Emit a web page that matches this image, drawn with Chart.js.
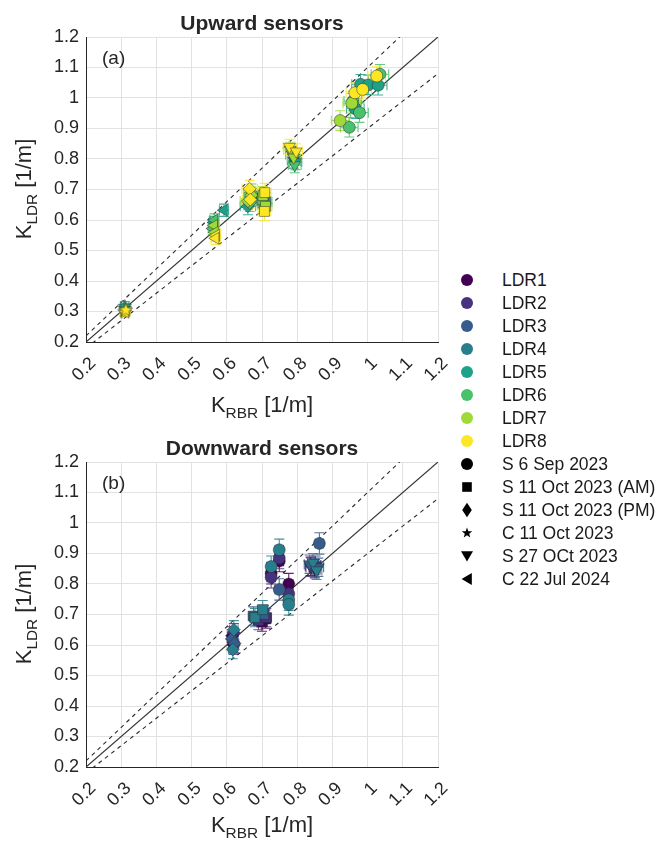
<!DOCTYPE html>
<html>
<head>
<meta charset="utf-8">
<script src="https://cdn.jsdelivr.net/npm/chart.js@4.4.1/dist/chart.umd.min.js"></script>
<style>
  body { margin: 0; background: #fff; font-family: 'Liberation Sans', Arial, sans-serif; color: #262626; }
  #page { position: relative; width: 663px; height: 845px; overflow: hidden; }
  canvas.plot { position: absolute; left: 0; }
  .lbl { position: absolute; white-space: nowrap; line-height: 1; }
  .lbl sub { font-size: 70%; line-height: 0; vertical-align: -0.38em; }
  .title { font-weight: bold; font-size: 21px; transform: translateX(-50%); }
  .axis { font-size: 22px; }
  .xlab { transform: translateX(-50%); }
  .ylab { transform: translate(-50%, -50%) rotate(-90deg); }
  .panel { font-size: 19px; }
  .leg { font-size: 17.5px; color: #1a1a1a; left: 502px; }
  #legendMarks { position: absolute; left: 440px; top: 260px; }
</style>
</head>
<body>
<div id="page">
  <canvas id="upChart" class="plot" width="450" height="420" style="top:0"></canvas>
  <canvas id="downChart" class="plot" width="450" height="425" style="top:420px"></canvas>
  <canvas id="legendMarks" width="60" height="340"></canvas>

  <div class="lbl title" style="left:262px; top:12px">Upward sensors</div>
  <div class="lbl title" style="left:262px; top:437px">Downward sensors</div>
  <div class="lbl panel" style="left:102px; top:48px">(a)</div>
  <div class="lbl panel" style="left:102px; top:473px">(b)</div>
  <div class="lbl axis xlab" style="left:262px; top:394px">K<sub>RBR</sub> [1/m]</div>
  <div class="lbl axis xlab" style="left:262px; top:814px">K<sub>RBR</sub> [1/m]</div>
  <div class="lbl axis ylab" style="left:24px; top:189px">K<sub>LDR</sub> [1/m]</div>
  <div class="lbl axis ylab" style="left:24px; top:614px">K<sub>LDR</sub> [1/m]</div>
  <div id="legendText"></div>
</div>

<script>
// capteurs, campagnes et graduations
const sensorNames = ['LDR1', 'LDR2', 'LDR3', 'LDR4', 'LDR5', 'LDR6', 'LDR7', 'LDR8'];
const campaignNames = ['S 6 Sep 2023', 'S 11 Oct 2023 (AM)', 'S 11 Oct 2023 (PM)',
                       'C 11 Oct 2023', 'S 27 OCt 2023', 'C 22 Jul 2024'];
const tickValues = [0.2, 0.3, 0.4, 0.5, 0.6, 0.7, 0.8, 0.9, 1.0, 1.1, 1.2];

// lignes de référence 1:1 et ±10 %
const oneToOne = [[0.2, 0.2], [1.2, 1.2]];
const plusTen = [[0.2, 0.22], [1.2, 1.32]];
const minusTen = [[0.2, 0.18], [1.2, 1.08]];

// capteurs montants (a)
const upSensor   = [4, 5, 6, 7, 8, 8,
                    5, 5, 6, 6, 7, 7, 8, 8,
                    5, 5, 6, 6, 7, 7, 8, 8,
                    5, 5, 6, 6, 7, 7, 8, 8,
                    4, 5, 6, 6, 7, 7, 8, 8,
                    5, 5, 5, 5, 6, 6, 6, 6, 7, 7, 8, 8, 8];
const upCampaign = [3, 3, 3, 3, 3, 3,
                    5, 5, 5, 5, 5, 5, 5, 5,
                    2, 2, 2, 2, 2, 2, 2, 2,
                    1, 1, 1, 1, 1, 1, 1, 1,
                    4, 4, 4, 4, 4, 4, 4, 4,
                    0, 0, 0, 0, 0, 0, 0, 0, 0, 0, 0, 0, 0];
const upRBR = [0.310, 0.310, 0.312, 0.309, 0.311, 0.313,
               0.592, 0.563, 0.565, 0.560, 0.564, 0.566, 0.570, 0.568,
               0.660, 0.672, 0.665, 0.670, 0.660, 0.670, 0.665, 0.667,
               0.700, 0.710, 0.705, 0.700, 0.710, 0.703, 0.707, 0.708,
               0.790, 0.795, 0.785, 0.793, 0.780, 0.790, 0.778, 0.797,
               0.965, 0.980, 1.002, 1.030, 0.948, 0.977, 0.958, 1.035, 0.922, 0.955, 0.964, 0.986, 1.026];
const upLDR = [0.312, 0.318, 0.306, 0.301, 0.298, 0.306,
               0.632, 0.592, 0.600, 0.572, 0.582, 0.560, 0.550, 0.540,
               0.645, 0.676, 0.656, 0.690, 0.662, 0.681, 0.702, 0.667,
               0.670, 0.660, 0.655, 0.666, 0.645, 0.680, 0.628, 0.690,
               0.795, 0.790, 0.815, 0.780, 0.830, 0.805, 0.840, 0.825,
               0.965, 1.045, 1.043, 1.042, 0.904, 0.952, 0.990, 1.078, 0.926, 0.983, 1.017, 1.028, 1.072];
const upErrRBR = [0.012, 0.012, 0.012, 0.012, 0.012, 0.012,
                  0.013, 0.013, 0.013, 0.013, 0.013, 0.013, 0.013, 0.013,
                  0.022, 0.022, 0.022, 0.022, 0.022, 0.022, 0.022, 0.022,
                  0.018, 0.018, 0.018, 0.018, 0.018, 0.018, 0.018, 0.018,
                  0.018, 0.018, 0.018, 0.018, 0.018, 0.018, 0.018, 0.018,
                  0.025, 0.025, 0.025, 0.025, 0.025, 0.025, 0.025, 0.025, 0.025, 0.025, 0.025, 0.025, 0.025];
const upErrLDR = [0.015, 0.015, 0.014, 0.014, 0.014, 0.014,
                  0.020, 0.020, 0.020, 0.020, 0.020, 0.020, 0.020, 0.020,
                  0.028, 0.028, 0.028, 0.028, 0.028, 0.028, 0.028, 0.028,
                  0.030, 0.030, 0.030, 0.030, 0.030, 0.030, 0.030, 0.030,
                  0.025, 0.025, 0.025, 0.025, 0.025, 0.025, 0.025, 0.025,
                  0.032, 0.032, 0.032, 0.032, 0.032, 0.032, 0.032, 0.032, 0.032, 0.032, 0.032, 0.032, 0.032];

// capteurs descendants (b)
const downSensor   = [1, 1, 2, 2, 3, 3, 4, 4,
                      1, 1, 2, 2, 3, 3, 4, 4,
                      1, 1, 1, 2, 2, 2, 3, 3, 4, 4, 4, 4,
                      1, 1, 2, 2, 3, 3, 4, 4];
const downCampaign = [2, 2, 2, 2, 2, 2, 2, 2,
                      1, 1, 1, 1, 1, 1, 1, 1,
                      0, 0, 0, 0, 0, 0, 0, 0, 0, 0, 0, 0,
                      4, 4, 4, 4, 4, 4, 4, 4];
const downRBR = [0.620, 0.615, 0.620, 0.618, 0.614, 0.622, 0.620, 0.617,
                 0.700, 0.710, 0.690, 0.712, 0.676, 0.705, 0.680, 0.702,
                 0.726, 0.776, 0.749, 0.726, 0.776, 0.749, 0.749, 0.863, 0.726, 0.749, 0.776, 0.776,
                 0.850, 0.838, 0.840, 0.852, 0.835, 0.860, 0.845, 0.855];
const downLDR = [0.600, 0.630, 0.640, 0.610, 0.620, 0.605, 0.650, 0.585,
                 0.675, 0.685, 0.680, 0.690, 0.695, 0.700, 0.690, 0.716,
                 0.835, 0.800, 0.875, 0.822, 0.768, 0.885, 0.782, 0.933, 0.857, 0.912, 0.748, 0.733,
                 0.850, 0.858, 0.855, 0.862, 0.865, 0.855, 0.870, 0.845];
const downErrRBR = [0.012, 0.012, 0.012, 0.012, 0.012, 0.012, 0.012, 0.012,
                    0.015, 0.015, 0.015, 0.015, 0.015, 0.015, 0.015, 0.015,
                    0.012, 0.012, 0.012, 0.012, 0.012, 0.012, 0.012, 0.012, 0.012, 0.012, 0.012, 0.012,
                    0.015, 0.015, 0.015, 0.015, 0.015, 0.015, 0.015, 0.015];
const downErrLDR = [0.030, 0.030, 0.030, 0.030, 0.030, 0.030, 0.030, 0.030,
                    0.030, 0.030, 0.030, 0.030, 0.030, 0.030, 0.030, 0.030,
                    0.035, 0.035, 0.035, 0.035, 0.035, 0.035, 0.035, 0.035, 0.035, 0.035, 0.035, 0.035,
                    0.030, 0.030, 0.030, 0.030, 0.030, 0.030, 0.030, 0.030];

// styles
const sensorColors = ['#440154', '#46327e', '#365c8d', '#277f8e', '#1fa187', '#4ac16d', '#a0da39', '#fde725'];
const FONT = "'Liberation Sans', Arial, sans-serif";
const TEXT = '#262626';
const markerKinds = ['circle', 'square', 'diamond', 'star', 'down', 'left'];

function drawMarker(ctx, kind, x, y, r) {
    ctx.beginPath();
    if (kind === 'circle') {
        ctx.arc(x, y, r, 0, Math.PI * 2);
    } else if (kind === 'square') {
        ctx.rect(x - r * 0.8, y - r * 0.8, r * 1.6, r * 1.6);
    } else if (kind === 'diamond') {
        ctx.moveTo(x, y - r * 1.2);
        ctx.lineTo(x + r * 0.8, y);
        ctx.lineTo(x, y + r * 1.2);
        ctx.lineTo(x - r * 0.8, y);
        ctx.closePath();
    } else if (kind === 'star') {
        for (let k = 0; k < 10; k++) {
            const a = -Math.PI / 2 + k * Math.PI / 5;
            const rr = k % 2 ? r * 0.42 : r;
            ctx.lineTo(x + rr * Math.cos(a), y + rr * Math.sin(a));
        }
        ctx.closePath();
    } else if (kind === 'down') {
        ctx.moveTo(x - r, y - r * 0.8);
        ctx.lineTo(x + r, y - r * 0.8);
        ctx.lineTo(x, y + r * 0.9);
        ctx.closePath();
    } else if (kind === 'left') {
        ctx.moveTo(x + r * 0.8, y - r);
        ctx.lineTo(x + r * 0.8, y + r);
        ctx.lineTo(x - r * 0.9, y);
        ctx.closePath();
    }
}

// étoiles pleines (pointStyle image) par couleur
const starImages = {};
function starImage(color) {
    if (!starImages[color]) {
        const c = document.createElement('canvas');
        c.width = 16; c.height = 16;
        const g = c.getContext('2d');
        drawMarker(g, 'star', 8, 8.5, 7);
        g.fillStyle = color;
        g.fill();
        g.lineWidth = 0.8;
        g.strokeStyle = 'rgba(40,40,40,0.6)';
        g.stroke();
        starImages[color] = c;
    }
    return starImages[color];
}

function pointLook(campaign, color) {
    switch (campaign) {
        case 0: return { style: 'circle', rot: 0, r: 6 };
        case 1: return { style: 'rect', rot: 0, r: 7 };
        case 2: return { style: 'rectRot', rot: 0, r: 6.5 };
        case 3: return { style: starImage(color), rot: 0, r: 6 };
        case 4: return { style: 'triangle', rot: 180, r: 6.8 };
        default: return { style: 'triangle', rot: 270, r: 6.8 };
    }
}

function formatTick(v) {
    return String(Number(v.toFixed(1)));
}

function hexAlpha(hex, a) {
    const n = parseInt(hex.slice(1), 16);
    return 'rgba(' + (n >> 16) + ',' + ((n >> 8) & 255) + ',' + (n & 255) + ',' + a + ')';
}

// barres d'erreur dessinées avant les marqueurs
const errorBars = {
    id: 'errorBars',
    beforeDatasetDraw(chart, args) {
        if (args.index !== 0) return;
        const ds = chart.data.datasets[0];
        const xs = chart.scales.x, ys = chart.scales.y;
        const ctx = chart.ctx, area = chart.chartArea;
        const cap = 5;
        ctx.save();
        ctx.beginPath();
        ctx.rect(area.left, area.top, area.right - area.left, area.bottom - area.top);
        ctx.clip();
        ctx.lineWidth = 1.1;
        ds.data.forEach((p, i) => {
            const px = xs.getPixelForValue(p.x), py = ys.getPixelForValue(p.y);
            const x0 = xs.getPixelForValue(p.x - ds.errX[i]), x1 = xs.getPixelForValue(p.x + ds.errX[i]);
            const y0 = ys.getPixelForValue(p.y - ds.errY[i]), y1 = ys.getPixelForValue(p.y + ds.errY[i]);
            ctx.strokeStyle = hexAlpha(ds.barColor[i], 0.85);
            ctx.beginPath();
            ctx.moveTo(px, y0); ctx.lineTo(px, y1);
            ctx.moveTo(px - cap, y0); ctx.lineTo(px + cap, y0);
            ctx.moveTo(px - cap, y1); ctx.lineTo(px + cap, y1);
            ctx.moveTo(x0, py); ctx.lineTo(x1, py);
            ctx.moveTo(x0, py - cap); ctx.lineTo(x0, py + cap);
            ctx.moveTo(x1, py - cap); ctx.lineTo(x1, py + cap);
            ctx.stroke();
        });
        ctx.restore();
    }
};

function refLine(points, dash) {
    return {
        data: points.map(p => ({ x: p[0], y: p[1] })),
        showLine: true,
        pointRadius: 0,
        borderColor: dash ? '#2a2a2a' : '#333333',
        borderWidth: dash ? 1.1 : 1.2,
        borderDash: dash ? [4, 4] : [],
        fill: false
    };
}

function makePlot(canvasId, sensor, campaign, rbr, ldr, errRBR, errLDR, padTop) {
    // ordre de tracé : LDR1 d'abord, LDR8 au-dessus
    const order = sensor.map((s, i) => i).sort((a, b) => sensor[a] - sensor[b] || a - b);
    const colors = order.map(i => sensorColors[sensor[i] - 1]);
    const looks = order.map((i, k) => pointLook(campaign[i], colors[k]));

    const tickFont = { family: FONT, size: 18 };
    return new Chart(document.getElementById(canvasId), {
        type: 'scatter',
        data: {
            datasets: [
                {
                    data: order.map(i => ({ x: rbr[i], y: ldr[i] })),
                    errX: order.map(i => errRBR[i]),
                    errY: order.map(i => errLDR[i]),
                    barColor: colors,
                    backgroundColor: colors,
                    borderColor: 'rgba(40,40,40,0.6)',
                    borderWidth: 0.8,
                    pointStyle: looks.map(l => l.style),
                    rotation: looks.map(l => l.rot),
                    pointRadius: looks.map(l => l.r)
                },
                refLine(oneToOne, false),
                refLine(plusTen, true),
                refLine(minusTen, true)
            ]
        },
        options: {
            responsive: false,
            animation: false,
            events: [],
            layout: { padding: { top: padTop, right: 12, left: 0, bottom: 0 } },
            plugins: { legend: { display: false }, tooltip: { enabled: false } },
            scales: {
                x: {
                    type: 'linear', min: 0.2, max: 1.2,
                    afterBuildTicks: s => { s.ticks = tickValues.map(v => ({ value: v })); },
                    afterFit: s => { s.height = 78; s.paddingLeft = 0; s.paddingRight = 0; },
                    grid: { color: '#e2e2e2', drawTicks: false },
                    border: { color: TEXT, width: 1 },
                    ticks: { minRotation: 45, maxRotation: 45, padding: 11, labelOffset: 7, color: TEXT,
                             font: tickFont, callback: v => formatTick(v) }
                },
                y: {
                    type: 'linear', min: 0.2, max: 1.2,
                    afterBuildTicks: s => { s.ticks = tickValues.map(v => ({ value: v })); },
                    afterFit: s => { s.width = 86; s.paddingTop = 0; s.paddingBottom = 0; },
                    grid: { color: '#e2e2e2', drawTicks: false },
                    border: { color: TEXT, width: 1 },
                    ticks: { padding: 7, color: TEXT, font: tickFont, callback: v => formatTick(v) }
                }
            }
        },
        plugins: [errorBars]
    });
}

// légende commune
function buildLegend() {
    const rowY = i => 280 + 23 * i;
    const canvas = document.getElementById('legendMarks');
    const ctx = canvas.getContext('2d');
    const box = document.getElementById('legendText');
    const entries = sensorNames.map((n, i) => ({ text: n, kind: 'circle', color: sensorColors[i], r: 6 }))
        .concat(campaignNames.map((n, i) => ({ text: n, kind: markerKinds[i], color: '#000',
                                               r: markerKinds[i] === 'star' ? 5.5 : 6 })));
    entries.forEach((e, i) => {
        drawMarker(ctx, e.kind, 467 - 440, rowY(i) - 260, e.r);
        ctx.fillStyle = e.color;
        ctx.fill();
        const d = document.createElement('div');
        d.className = 'lbl leg';
        d.style.top = (rowY(i) + 1 - 0.4885 * 17.5) + 'px';
        d.textContent = e.text;
        box.appendChild(d);
    });
}

makePlot('upChart', upSensor, upCampaign, upRBR, upLDR, upErrRBR, upErrLDR, 37);
makePlot('downChart', downSensor, downCampaign, downRBR, downLDR, downErrRBR, downErrLDR, 42);
buildLegend();
</script>
</body>
</html>
